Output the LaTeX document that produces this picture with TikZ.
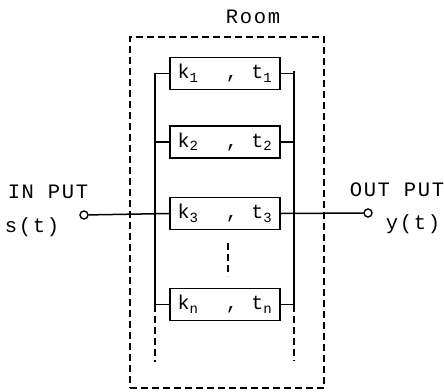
\documentclass[tikz,border=0pt]{standalone}
\usepackage{fontspec}
\setmainfont[LetterSpace=8]{Liberation Mono}
\begin{document}
\begin{tikzpicture}[x=1pt,y=-1pt,
  wire/.style={line width=1.5pt},
  blk/.style={draw, line width=1.5pt, minimum width=110pt, minimum height=32pt, inner sep=0pt, font=\fontsize{20}{23}\selectfont},
  port/.style={circle, draw, line width=1.4pt, minimum size=8pt, inner sep=0pt, fill=white},
  frame/.style={draw, line width=1.3pt, dash pattern=on 7pt off 4pt, minimum width=194pt, minimum height=351pt, inner sep=0pt},
  txt/.style={font=\fontsize{20.5}{24}\selectfont, inner sep=0pt},
  dsh/.style={line width=1.5pt, dash pattern=on 7pt off 4pt}]
\useasboundingbox (0,0) rectangle (444,391);
\node[frame] (room) at (227,212.5) {};
\node[txt] (roomlbl) at (253,17) {Room};
\node[blk] (b1) at (225,73.5) {k\textsubscript{1}\ \ , t\textsubscript{1}};
\node[blk] (b2) at (225,142) {k\textsubscript{2}\ \ , t\textsubscript{2}};
\node[blk] (b3) at (225,213.5) {k\textsubscript{3}\ \ , t\textsubscript{3}};
\node[blk] (bn) at (225,304.5) {k\textsubscript{n}\ \ , t\textsubscript{n}};
\coordinate (lt) at (155,73.5);
\coordinate (lb) at (155,304.5);
\coordinate (lbd) at (155,362);
\coordinate (rt) at (294,71);
\coordinate (rb) at (294,304.5);
\coordinate (rbd) at (294,360);
\coordinate (vd1) at (228,243);
\coordinate (vd2) at (228,276);
\node[port] (in) at (84,215) {};
\node[port] (out) at (368,213) {};
\node[txt] (inlbl) at (48,192) {IN PUT};
\node[txt] (slbl) at (32,227) {s(t)};
\node[txt] (outlbl) at (397,190) {OUT PUT};
\node[txt] (ylbl) at (413,224) {y(t)};
\draw[wire] (b1.west) -- (lt) -- (lb);
\draw[wire] (b1.east) -| (rt) -- (rb);
\foreach \b in {b2,b3,bn}{
  \draw[wire] (\b.west) -- (\b.west -| lt);
  \draw[wire] (\b.east) -- (\b.east -| rt);
}
\draw[dsh] (lb) -- (lbd);
\draw[dsh] (rb) -- (rbd);
\draw[dsh] (vd1) -- (vd2);
\draw[wire] (in) -- (b3.west);
\draw[wire] (b3.east) -- (out);
\end{tikzpicture}
\end{document}
